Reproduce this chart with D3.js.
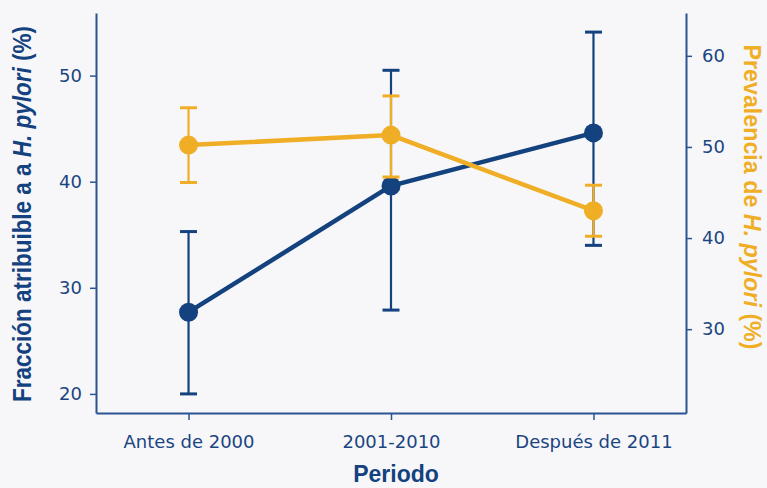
<!DOCTYPE html>
<html>
<head>
<meta charset="utf-8">
<script src="https://cdn.jsdelivr.net/npm/d3@7"></script>
<style>
  body { margin: 0; background: #f7f7fa; }
  svg { display: block; font-family: "Liberation Sans", Arial, sans-serif; }
  .tick text { fill: #1b4580; font-size: 18px; font-family: "DejaVu Sans", sans-serif; }
  .tick line, .domain { stroke: #2a5592; }
</style>
</head>
<body>
<svg id="chart" width="767" height="488"></svg>
<script>
var periods = ["Antes de 2000", "2001-2010", "Después de 2011"];

// fracción atribuible (eje izquierdo)
var fracValue = [27.7, 39.6, 44.6];
var fracLow = [20.0, 27.9, 34.0];
var fracHigh = [35.3, 50.5, 54.1];

// prevalencia (eje derecho)
var prevValue = [50.2, 51.3, 43.0];
var prevLow = [46.1, 46.7, 40.2];
var prevHigh = [54.3, 55.6, 45.8];

var leftTicks = [20, 30, 40, 50];
var rightTicks = [30, 40, 50, 60];

var blue = "#13427e", yellow = "#f0ae27";
var margin = {top: 13, right: 81, bottom: 75, left: 96},
    width = 767 - margin.left - margin.right,
    height = 488 - margin.top - margin.bottom;

var svg = d3.select("#chart");
var g = svg.append("g")
    .attr("transform", "translate(" + margin.left + "," + margin.top + ")");

var x = d3.scalePoint().domain(periods).range([0, width]).padding(0.457);
var yL = d3.scaleLinear().domain([18.2, 55.9]).range([height, 0]);
var yR = d3.scaleLinear().domain([20.8, 64.7]).range([height, 0]);

g.append("g")
    .attr("transform", "translate(0," + height + ")")
    .call(d3.axisBottom(x).tickSize(7).tickPadding(15).tickSizeOuter(0));
g.append("g")
    .call(d3.axisLeft(yL).tickValues(leftTicks).tickSize(6).tickPadding(8).tickSizeOuter(0));
g.append("g")
    .attr("transform", "translate(" + width + ",0)")
    .call(d3.axisRight(yR).tickValues(rightTicks).tickSize(6).tickPadding(10).tickSizeOuter(0));
g.selectAll(".domain").attr("stroke-width", 2);
g.selectAll(".tick line").attr("stroke-width", 1.5);

function series(vals, lo, hi, scale, color) {
    var s = g.append("g");
    var idx = d3.range(vals.length);
    s.selectAll(".bar").data(idx).enter().append("line")
        .attr("x1", function(i) { return x(periods[i]); })
        .attr("x2", function(i) { return x(periods[i]); })
        .attr("y1", function(i) { return scale(lo[i]); })
        .attr("y2", function(i) { return scale(hi[i]); })
        .attr("stroke", color).attr("stroke-width", 2.2);
    [lo, hi].forEach(function(arr) {
        s.selectAll(null).data(idx).enter().append("line")
            .attr("x1", function(i) { return x(periods[i]) - 8.5; })
            .attr("x2", function(i) { return x(periods[i]) + 8.5; })
            .attr("y1", function(i) { return scale(arr[i]); })
            .attr("y2", function(i) { return scale(arr[i]); })
            .attr("stroke", color).attr("stroke-width", 3);
    });
    s.append("path")
        .datum(idx)
        .attr("fill", "none")
        .attr("stroke", color)
        .attr("stroke-width", 4.5)
        .attr("d", d3.line()
            .x(function(i) { return x(periods[i]); })
            .y(function(i) { return scale(vals[i]); }));
    s.selectAll("circle").data(idx).enter().append("circle")
        .attr("cx", function(i) { return x(periods[i]); })
        .attr("cy", function(i) { return scale(vals[i]); })
        .attr("r", 9.5)
        .attr("fill", color);
}

series(fracValue, fracLow, fracHigh, yL, blue);
series(prevValue, prevLow, prevHigh, yR, yellow);

// títulos de ejes
var lt = svg.append("text")
    .attr("transform", "translate(31,214) rotate(-90) scale(0.9,1)")
    .attr("text-anchor", "middle")
    .attr("fill", blue).attr("font-size", 25).attr("font-weight", "bold");
lt.append("tspan").text("Fracción atribuible a a ");
lt.append("tspan").attr("font-style", "italic").text("H. pylori");
lt.append("tspan").text(" (%)");

var rt = svg.append("text")
    .attr("transform", "translate(744,197) rotate(90) scale(0.97,1)")
    .attr("text-anchor", "middle")
    .attr("fill", yellow).attr("font-size", 24).attr("font-weight", "bold");
rt.append("tspan").text("Prevalencia de ");
rt.append("tspan").attr("font-style", "italic").text("H. pylori");
rt.append("tspan").text(" (%)");

svg.append("text")
    .attr("x", 396)
    .attr("y", 482)
    .attr("text-anchor", "middle")
    .attr("fill", blue).attr("font-size", 23).attr("font-weight", "bold")
    .text("Periodo");
</script>
</body>
</html>
